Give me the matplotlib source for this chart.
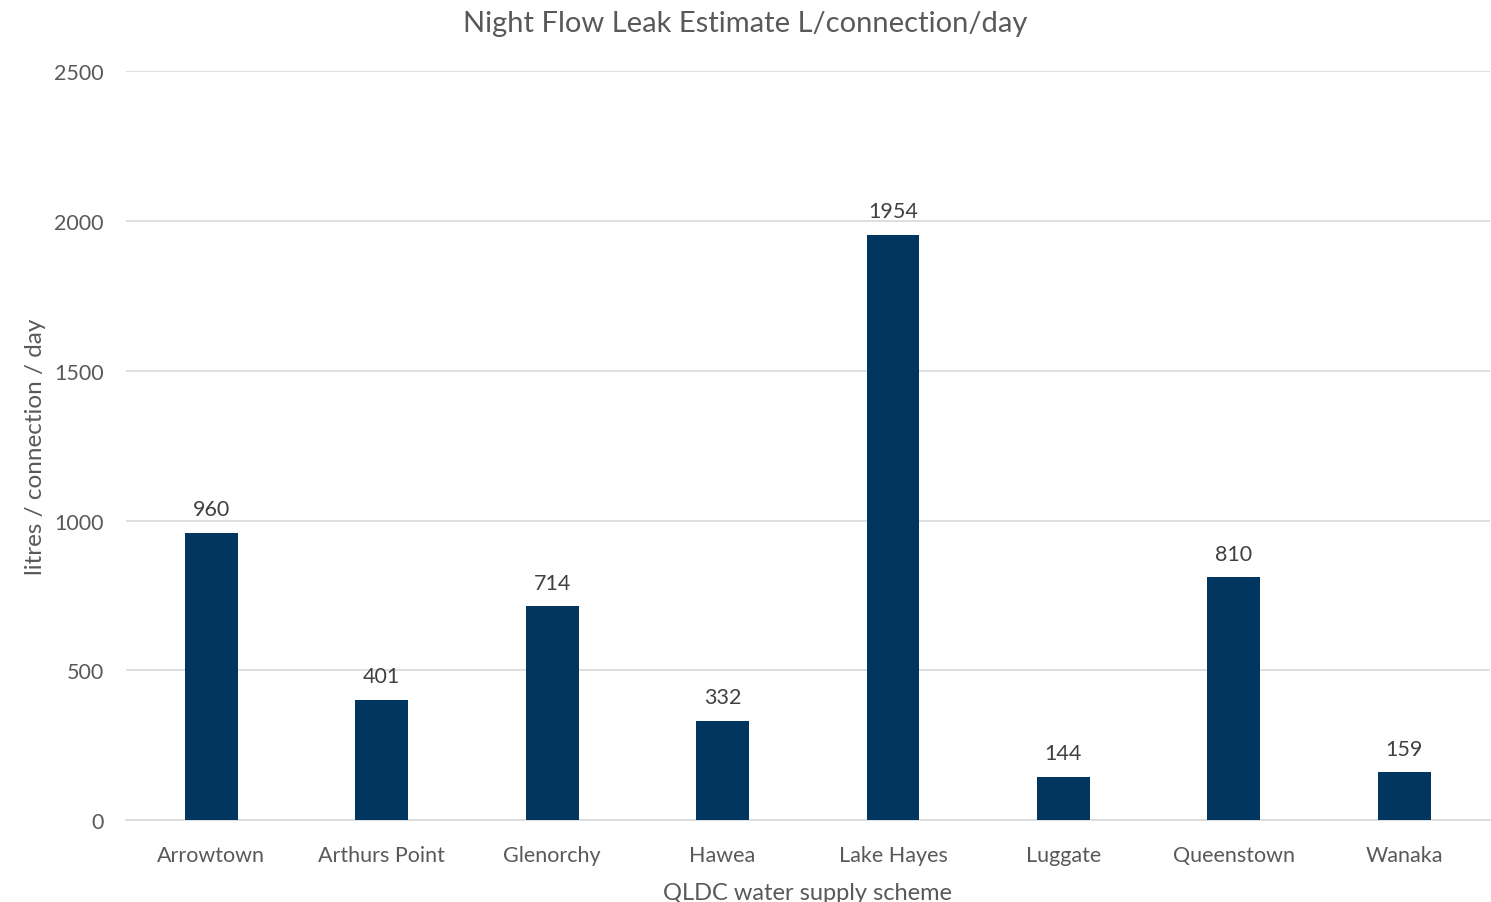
import matplotlib
matplotlib.use("Agg")
import matplotlib.pyplot as plt

schemes = ["Arrowtown", "Arthurs Point", "Glenorchy", "Hawea",
           "Lake Hayes", "Luggate", "Queenstown", "Wanaka"]
leak = [960, 401, 714, 332, 1954, 144, 810, 159]
y_ticks = [0, 500, 1000, 1500, 2000, 2500]

BAR = "#003660"
GREY = "#595959"

plt.rcParams['font.family'] = ['Lato', 'DejaVu Sans']

fig = plt.figure(figsize=(14.91, 9.03), dpi=100)
ax = fig.add_axes([0.0845, 0.0908, 0.9145, 0.829])

x = range(len(schemes))
bars = ax.bar(x, leak, width=0.31, color=BAR, zorder=3)
for b, v in zip(bars, leak):
    ax.text(b.get_x() + b.get_width() / 2, v + 45, str(v),
            ha='center', va='bottom', fontsize=15.5, color="#404040")

ax.set_xlim(-0.5, len(schemes) - 0.5)
ax.set_ylim(0, 2500)
ax.set_yticks(y_ticks)
ax.set_xticks(list(x))
ax.set_xticklabels(schemes)
ax.tick_params(axis='both', length=0, labelsize=15.5, labelcolor=GREY)
ax.tick_params(axis='x', pad=18)
ax.tick_params(axis='y', pad=16)
ax.grid(axis='y', color="#d9d9d9", linewidth=1.2, zorder=0)
for s in ['top', 'right', 'left']:
    ax.spines[s].set_visible(False)
ax.spines['bottom'].set_color("#d9d9d9")
ax.spines['bottom'].set_linewidth(1.2)

ax.set_xlabel("QLDC water supply scheme", fontsize=17, color=GREY, labelpad=12)
ax.set_ylabel("litres / connection / day", fontsize=17.5, color=GREY, labelpad=6)
fig.suptitle("Night Flow Leak Estimate L/connection/day", fontsize=21,
             color=GREY, y=0.988)

fig.savefig("out.png", dpi=100)
